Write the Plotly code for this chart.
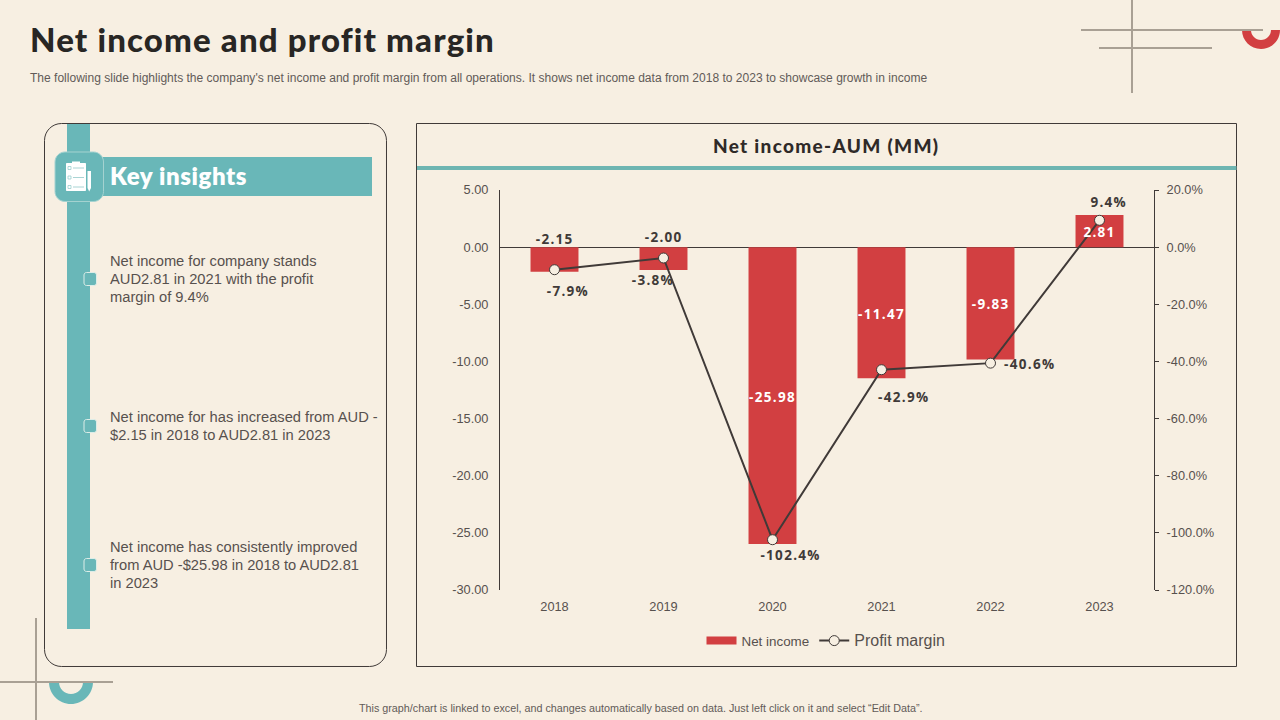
import plotly.graph_objects as go

# ---- data ----
years = ["2018", "2019", "2020", "2021", "2022", "2023"]
net_income = [-2.15, -2.00, -25.98, -11.47, -9.83, 2.81]
profit_margin = [-7.9, -3.8, -102.4, -42.9, -40.6, 9.4]
left_ticks = [5, 0, -5, -10, -15, -20, -25, -30]
left_tick_text = ["5.00", "0.00", "-5.00", "-10.00", "-15.00", "-20.00", "-25.00", "-30.00"]
right_ticks = [20, 0, -20, -40, -60, -80, -100, -120]
right_tick_text = ["20.0%", "0.0%", "-20.0%", "-40.0%", "-60.0%", "-80.0%", "-100.0%", "-120.0%"]

# label offsets in screen pixels (dx, dy-up)
margin_label_offsets = [(13, -21), (-11, -22), (18, -15), (22, -27), (39, -1), (9, 18)]
net_label_lift = [8, 10, None, None, None, None]

title_text = "Net income and profit margin"
subtitle_text = ("The following slide highlights the company's net income and profit margin from all "
                 "operations. It shows net income data from 2018 to 2023 to showcase growth in income")
chart_title = "Net income-AUM (MM)"
key_title = "Key insights"
insights = [
    (["Net income for company stands", "AUD2.81 in 2021 with the profit", "margin of 9.4%"], 279),
    (["Net income for has increased from AUD -", "$2.15 in 2018 to AUD2.81 in 2023"], 426),
    (["Net income has consistently improved", "from AUD -$25.98 in 2018 to AUD2.81", "in 2023"], 565),
]
footer_text = 'This graph/chart is linked to excel, and changes automatically based on data. Just left click on it and select \u201cEdit Data\u201d.'

# ---- style ----
W, H = 1280, 720
BG = "#F7EFE2"
TEAL = "#69B7B8"
RED = "#D23F41"
DARK = "#403A38"
GREY = "#A9A094"
TXT = "#57514E"
HEAD = "Lato"
BODY = "Liberation Sans"
LABEL = "Open Sans"
LABEL_SPACING = 1.3


def px(x):
    return x / W


def py(y):
    return 1 - y / H


def P(cmds):
    out = []
    for c in cmds:
        if c[0] == "Z":
            out.append("Z")
        else:
            nums = c[1:]
            pts = []
            for i in range(0, len(nums), 2):
                pts.append(f"{px(nums[i]):.6f},{py(nums[i+1]):.6f}")
            out.append(c[0] + " ".join(pts))
    return " ".join(out)


K = 0.5523


def round_rect(x0, y0, x1, y1, r):
    k = r * (1 - K)
    return P([
        ("M", x0 + r, y0), ("L", x1 - r, y0),
        ("C", x1 - k, y0, x1, y0 + k, x1, y0 + r), ("L", x1, y1 - r),
        ("C", x1, y1 - k, x1 - k, y1, x1 - r, y1), ("L", x0 + r, y1),
        ("C", x0 + k, y1, x0, y1 - k, x0, y1 - r), ("L", x0, y0 + r),
        ("C", x0, y0 + k, x0 + k, y0, x0 + r, y0), ("Z",),
    ])


def half_ring(cx, cy, ro, ri):
    a, b = ro * K, ri * K
    return P([
        ("M", cx - ro, cy),
        ("C", cx - ro, cy + a, cx - a, cy + ro, cx, cy + ro),
        ("C", cx + a, cy + ro, cx + ro, cy + a, cx + ro, cy),
        ("L", cx + ri, cy),
        ("C", cx + ri, cy + b, cx + b, cy + ri, cx, cy + ri),
        ("C", cx - b, cy + ri, cx - ri, cy + b, cx - ri, cy),
        ("Z",),
    ])


shapes = []


def rect(x0, y0, x1, y1, fill, line=None, lw=0):
    shapes.append(dict(type="rect", xref="paper", yref="paper", x0=px(x0), x1=px(x1), y0=py(y0), y1=py(y1),
                       fillcolor=fill, line=dict(color=line or fill, width=lw), layer="below"))


def seg(x0, y0, x1, y1, color, lw):
    shapes.append(dict(type="line", xref="paper", yref="paper", x0=px(x0), x1=px(x1), y0=py(y0), y1=py(y1),
                       line=dict(color=color, width=lw), layer="below"))


def path(d, fill, line=None, lw=0):
    shapes.append(dict(type="path", xref="paper", yref="paper", path=d, fillcolor=fill,
                       line=dict(color=line or fill, width=lw), layer="below"))


# corner decorations
path(half_ring(1261, 30, 19, 10), RED)
path(half_ring(71, 682, 22, 12), TEAL)
seg(1081, 30, 1263, 30, GREY, 2)
seg(1099, 48, 1212, 48, GREY, 2)
seg(1132, 0, 1132, 93, GREY, 2)
seg(36, 618, 36, 720, GREY, 2)
seg(0, 682, 113, 682, GREY, 2)

# left card
path(round_rect(44.5, 123.5, 386.5, 666.5, 17), "rgba(0,0,0,0)", DARK, 1)
rect(67, 124, 90, 629, TEAL)
rect(103, 157, 372, 196, TEAL)
path(round_rect(55, 152, 103.5, 201.5, 10), TEAL, "#A5D3D1", 1)
# clipboard icon
path(round_rect(66, 163, 86, 191, 1), "#FFFFFF")
rect(72, 161.5, 80, 164, "#FFFFFF")
for yy in (168, 177.5, 187):
    rect(68, yy - 1.5, 71, yy + 1.5, "#FFFFFF", "#8FC8C8", 0.7)
    seg(73, yy, 84, yy, "#A9D4D4", 1)
path(P([("M", 87.5, 171), ("L", 91, 171), ("L", 91, 188), ("L", 89.2, 191.5), ("L", 87.5, 188), ("Z",)]), "#FFFFFF")
# bullets
for _, yy in insights:
    path(round_rect(84, yy - 6.5, 96.5, yy + 6.5, 2.5), TEAL, "#DDEDE8", 1)

# right box
rect(416.5, 123.5, 1236.5, 666.5, "rgba(0,0,0,0)", DARK, 1)
rect(417, 166, 1236.5, 170, "#6EB5B1")


def text(x, y, s, size, color, family=BODY, anchor="left", weight=None):
    f = dict(family=family, size=size, color=color)
    if weight:
        f["weight"] = weight
    return dict(xref="paper", yref="paper", x=px(x), y=py(y), text=s, showarrow=False, xanchor=anchor,
                yanchor="middle", align="left", font=f, borderpad=0, borderwidth=0)


annotations = [
    text(30, 39, title_text, 33, "#282624", HEAD, weight=900),
    text(30, 78, subtitle_text, 12.04, "#625B58"),
    text(110, 175, key_title, 24, "#FFFFFF", HEAD, weight=800),
    text(713, 146, chart_title, 19, "#2F2A28", HEAD, weight=900),
    text(640, 708, footer_text, 10.75, "#625B58", anchor="center"),
]
for lines, yy in insights:
    n = len(lines)
    for i, s in enumerate(lines):
        annotations.append(text(110, yy + (i - (n - 1) / 2) * 18, s, 14.7, TXT))

# data labels
label_strings = []


def data_label(yref, i, y, s, color, dx, dy):
    label_strings.append(s)
    return dict(xref="x", yref=yref, x=i, y=y, text=s, showarrow=False,
                xshift=dx, yshift=dy,
                font=dict(family=LABEL, size=13.5, color=color, weight="bold"))


for i, (v, lift) in enumerate(zip(net_income, net_label_lift)):
    if lift is None:
        annotations.append(data_label("y", i, v / 2, f"{v:.2f}", "#FFFFFF", 0, -1))
    else:
        annotations.append(data_label("y", i, 0, f"{v:.2f}", DARK, 0, lift))
for i, (v, (dx, dy)) in enumerate(zip(profit_margin, margin_label_offsets)):
    annotations.append(data_label("y2", i, v, f"{v:.1f}%", DARK, dx, dy))

fig = go.Figure()
fig.add_trace(go.Bar(x=years, y=net_income, name="Net income", showlegend=False,
                     marker=dict(color=RED, line=dict(width=0)), width=0.44, yaxis="y"))
# legend key for the bars: a wide flat swatch
fig.add_trace(go.Scatter(x=[years[0]], y=[None], name='<span style="font-size:13.4px">Net income</span>',
                         mode="lines", line=dict(color=RED, width=8), yaxis="y"))
fig.add_trace(go.Scatter(x=years, y=profit_margin, name='<span style="font-size:16px">Profit margin</span>',
                         mode="lines+markers", yaxis="y2",
                         line=dict(color=DARK, width=2),
                         marker=dict(size=10, color=BG, line=dict(color=DARK, width=1))))

tick_font = dict(family=BODY, size=12.8, color=TXT)
fig.update_layout(
    width=W, height=H, autosize=False,
    margin=dict(l=0, r=0, t=0, b=0, autoexpand=False),
    paper_bgcolor=BG, plot_bgcolor="rgba(0,0,0,0)",
    showlegend=True,
    legend=dict(orientation="h", x=px(701.5), y=py(641), xanchor="left", yanchor="middle",
                font=dict(family=BODY, size=14, color=TXT), itemwidth=30, bgcolor="rgba(0,0,0,0)",
                traceorder="normal"),
    xaxis=dict(domain=[px(500), px(1154)], type="category", range=[-0.5, 5.5], showgrid=False, showline=False,
               ticks="", tickfont=tick_font, ticklabelstandoff=7, zeroline=False, anchor="y"),
    yaxis=dict(domain=[py(590), py(190)], range=[-30, 5], tickvals=left_ticks, ticktext=left_tick_text,
               showgrid=False, showline=True, linecolor=DARK, linewidth=1, ticks="", tickfont=tick_font,
               ticklabelstandoff=8, zeroline=True, zerolinecolor=DARK, zerolinewidth=1),
    yaxis2=dict(domain=[py(590), py(190)], range=[-120, 20], tickvals=right_ticks, ticktext=right_tick_text,
                overlaying="y", side="right", showgrid=False, showline=True, linecolor=DARK, linewidth=1,
                ticks="outside", ticklen=4, tickwidth=1, tickcolor=DARK, tickfont=tick_font, ticklabelstandoff=5,
                zeroline=False),
    shapes=shapes, annotations=annotations,
)
spacing_js = """
document.body.style.margin='0';
document.body.style.background='%s';
var sp={'%s':'1.15px','%s':'0.6px','%s':'1.3px'};
%s.forEach(function(s){sp[s]='%.1fpx';});
document.querySelectorAll('.annotation-text').forEach(function(t){
  if(sp[t.textContent]) t.style.letterSpacing=sp[t.textContent];
});
""" % (BG, title_text, key_title, chart_title, repr(label_strings), LABEL_SPACING)
fig.write_html("out.html", post_script=spacing_js, config=dict(displayModeBar=False))
